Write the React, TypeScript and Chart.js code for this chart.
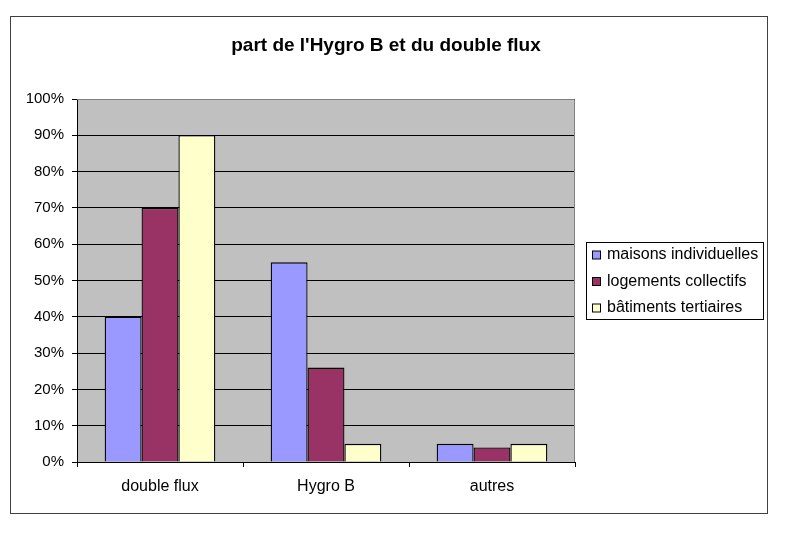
import { useEffect, useRef } from "react";
import { Chart, registerables, Plugin } from "chart.js";

Chart.register(...registerables);

const title = "part de l'Hygro B et du double flux";
const categories = ["double flux", "Hygro B", "autres"];
const seriesNames = ["maisons individuelles", "logements collectifs", "bâtiments tertiaires"];
const maisons = [40, 55, 5];
const logements = [70, 26, 4];
const tertiaires = [90, 5, 5];
const yTicks = [0, 10, 20, 30, 40, 50, 60, 70, 80, 90, 100];

const colors = ["#9999FF", "#993366", "#FFFFCC"];
const FONT = "'Liberation Sans', Arial, sans-serif";

// frame, plot background, title and legend box
const decor: Plugin<"bar"> = {
  id: "decor",
  beforeDraw(chart) {
    const { ctx, chartArea } = chart;
    ctx.save();
    ctx.fillStyle = "#fff";
    ctx.fillRect(0, 0, chart.width, chart.height);
    ctx.strokeStyle = "#404040";
    ctx.lineWidth = 1;
    ctx.strokeRect(10.5, 16.5, 757, 497);
    ctx.fillStyle = "#C0C0C0";
    ctx.fillRect(chartArea.left, chartArea.top, chartArea.right - chartArea.left, chartArea.bottom - chartArea.top);

    ctx.fillStyle = "#000";
    ctx.font = `bold 19px ${FONT}`;
    ctx.textAlign = "center";
    ctx.textBaseline = "middle";
    ctx.fillText(title, 386, 46);
    ctx.restore();
  },
  beforeDatasetsDraw(chart) {
    const { ctx, chartArea } = chart;
    ctx.save();
    ctx.strokeStyle = "#808080";
    ctx.lineWidth = 1;
    ctx.beginPath();
    ctx.moveTo(chartArea.left, chartArea.top + 0.5);
    ctx.lineTo(chartArea.right - 0.5, chartArea.top + 0.5);
    ctx.lineTo(chartArea.right - 0.5, chartArea.bottom);
    ctx.stroke();
    ctx.restore();
  },
  afterDraw(chart) {
    const { ctx } = chart;
    const bx = 586, by = 242, bw = 177, bh = 77;
    ctx.save();
    ctx.fillStyle = "#fff";
    ctx.fillRect(bx, by, bw, bh);
    ctx.strokeStyle = "#000";
    ctx.lineWidth = 1;
    ctx.strokeRect(bx + 0.5, by + 0.5, bw, bh);
    ctx.font = `16px ${FONT}`;
    ctx.textBaseline = "middle";
    ctx.textAlign = "left";
    chart.data.datasets.forEach((ds, i) => {
      const y = by + 13 + i * 26.5;
      ctx.fillStyle = ds.backgroundColor as string;
      ctx.fillRect(592.5, y - 4, 8, 8);
      ctx.strokeStyle = "#000";
      ctx.strokeRect(592.5, y - 4, 8, 8);
      ctx.fillStyle = "#000";
      ctx.fillText(ds.label as string, 607, y);
    });
    ctx.restore();
  },
};

export default function App() {
  const canvasRef = useRef<HTMLCanvasElement>(null);
  const chartRef = useRef<Chart<"bar"> | null>(null);

  useEffect(() => {
    if (!canvasRef.current) return;
    if (chartRef.current) chartRef.current.destroy();

    const series = [maisons, logements, tertiaires];

    chartRef.current = new Chart(canvasRef.current, {
      type: "bar",
      data: {
        labels: categories,
        datasets: series.map((values, i) => ({
          label: seriesNames[i],
          data: values,
          backgroundColor: colors[i],
          borderColor: "#000",
          borderWidth: 1.3,
          borderSkipped: "bottom",
          categoryPercentage: 3 / 4.5,
          barPercentage: 1,
        })),
      },
      options: {
        animation: false,
        responsive: true,
        maintainAspectRatio: false,
        layout: { padding: { left: 10, top: 99, right: 225, bottom: 34 } },
        plugins: {
          legend: { display: false },
          title: { display: false },
          tooltip: { enabled: false },
        },
        scales: {
          x: {
            afterFit: (scale) => { scale.height = 40; },
            grid: { offset: true, drawOnChartArea: false, tickLength: 5, color: "#000" },
            border: { color: "#000", width: 1 },
            ticks: { color: "#000", font: { family: FONT, size: 16 }, padding: 10 },
          },
          y: {
            min: 0,
            max: 100,
            afterFit: (scale) => { scale.width = 67; },
            afterBuildTicks: (scale) => { scale.ticks = yTicks.map((v) => ({ value: v })); },
            grid: { color: "#000", tickLength: 5 },
            border: { color: "#000", width: 1 },
            ticks: {
              color: "#000",
              font: { family: FONT, size: 15 },
              padding: 8,
              callback: (v) => `${v}%`,
            },
          },
        },
      },
      plugins: [decor],
    });

    return () => {
      chartRef.current?.destroy();
      chartRef.current = null;
    };
  }, []);

  return (
    <div style={{ position: "absolute", left: 0, top: 0, width: 800, height: 536 }}>
      <canvas ref={canvasRef} />
    </div>
  );
}
